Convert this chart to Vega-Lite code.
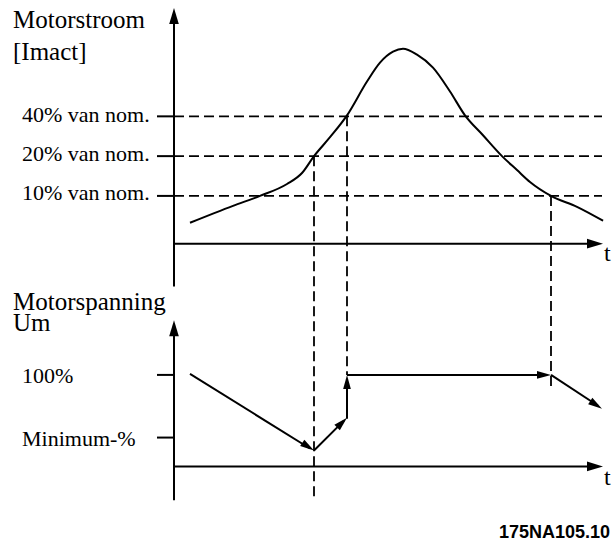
{
  "$schema": "https://vega.github.io/schema/vega-lite/v6.json",
  "width": 616,
  "height": 542,
  "padding": 0,
  "autosize": {"type": "fit", "contains": "padding"},
  "background": "white",
  "config": {"view": {"stroke": null}},
  "datasets": {
    "curve": [
      {"t": 190, "v": 224}, {"t": 233, "v": 207}, {"t": 260, "v": 197}, {"t": 287, "v": 185},
      {"t": 302, "v": 174}, {"t": 314, "v": 157}, {"t": 330, "v": 138}, {"t": 347, "v": 116},
      {"t": 367, "v": 82}, {"t": 380, "v": 63}, {"t": 393, "v": 52}, {"t": 403, "v": 49},
      {"t": 417, "v": 55}, {"t": 433, "v": 68}, {"t": 450, "v": 92}, {"t": 465, "v": 116},
      {"t": 483, "v": 136}, {"t": 502, "v": 157}, {"t": 517, "v": 171}, {"t": 530, "v": 183},
      {"t": 551, "v": 197}, {"t": 577, "v": 208}, {"t": 603, "v": 222}
    ],
    "solid": [
      {"seg": "yaxis1", "i": 0, "t": 174, "v": 20}, {"seg": "yaxis1", "i": 1, "t": 174, "v": 288},
      {"seg": "xaxis1", "i": 0, "t": 174, "v": 245}, {"seg": "xaxis1", "i": 1, "t": 592, "v": 245},
      {"seg": "yaxis2", "i": 0, "t": 174, "v": 334}, {"seg": "yaxis2", "i": 1, "t": 174, "v": 503},
      {"seg": "xaxis2", "i": 0, "t": 174, "v": 469}, {"seg": "xaxis2", "i": 1, "t": 592, "v": 469},
      {"seg": "tick40", "i": 0, "t": 157, "v": 117}, {"seg": "tick40", "i": 1, "t": 174, "v": 117},
      {"seg": "tick20", "i": 0, "t": 157, "v": 157}, {"seg": "tick20", "i": 1, "t": 174, "v": 157},
      {"seg": "tick10", "i": 0, "t": 157, "v": 197}, {"seg": "tick10", "i": 1, "t": 174, "v": 197},
      {"seg": "tick100", "i": 0, "t": 157, "v": 377}, {"seg": "tick100", "i": 1, "t": 174, "v": 377},
      {"seg": "tickmin", "i": 0, "t": 157, "v": 440}, {"seg": "tickmin", "i": 1, "t": 174, "v": 440},
      {"seg": "u1", "i": 0, "t": 190, "v": 376}, {"seg": "u1", "i": 1, "t": 310, "v": 451},
      {"seg": "u2", "i": 0, "t": 314, "v": 453}, {"seg": "u2", "i": 1, "t": 344, "v": 423},
      {"seg": "u3", "i": 0, "t": 347, "v": 421}, {"seg": "u3", "i": 1, "t": 347, "v": 381},
      {"seg": "u4", "i": 0, "t": 347, "v": 377}, {"seg": "u4", "i": 1, "t": 547, "v": 377},
      {"seg": "u5", "i": 0, "t": 551, "v": 377}, {"seg": "u5", "i": 1, "t": 598, "v": 408}
    ],
    "dashed": [
      {"seg": "h40", "i": 0, "t": 174, "v": 117}, {"seg": "h40", "i": 1, "t": 602, "v": 117},
      {"seg": "h20", "i": 0, "t": 174, "v": 157}, {"seg": "h20", "i": 1, "t": 602, "v": 157},
      {"seg": "h10", "i": 0, "t": 174, "v": 197}, {"seg": "h10", "i": 1, "t": 602, "v": 197},
      {"seg": "v1", "i": 0, "t": 314, "v": 157}, {"seg": "v1", "i": 1, "t": 314, "v": 503},
      {"seg": "v2", "i": 0, "t": 347, "v": 117}, {"seg": "v2", "i": 1, "t": 347, "v": 377},
      {"seg": "v3", "i": 0, "t": 551, "v": 197}, {"seg": "v3", "i": 1, "t": 551, "v": 390}
    ],
    "axisArrowUp": [{"t": 174, "v": 8}, {"t": 174, "v": 322}],
    "axisArrowRight": [{"t": 603, "v": 245}, {"t": 603, "v": 469}],
    "arrowUp": [{"t": 347, "v": 377}],
    "arrowUpRight": [{"t": 347, "v": 420}],
    "arrowRight": [{"t": 551, "v": 377}],
    "arrowDownRight": [{"t": 314, "v": 453}, {"t": 602, "v": 411}],
    "titles": [
      {"t": 13, "v": 28, "label": "Motorstroom"},
      {"t": 13, "v": 60, "label": "[Imact]"},
      {"t": 13, "v": 312, "label": "Motorspanning"},
      {"t": 13, "v": 333, "label": "Um"}
    ],
    "ticklabels": [
      {"t": 22, "v": 123, "label": "40% van nom."},
      {"t": 22, "v": 162, "label": "20% van nom."},
      {"t": 22, "v": 201, "label": "10% van nom."},
      {"t": 22, "v": 385, "label": "100%"},
      {"t": 22, "v": 448, "label": "Minimum-%"}
    ],
    "tlabels": [
      {"t": 604, "v": 262, "label": "t"},
      {"t": 604, "v": 488, "label": "t"}
    ],
    "footer": [{"t": 610, "v": 541, "label": "175NA105.10"}]
  },
  "encoding": {
    "x": {"field": "t", "type": "quantitative", "scale": {"domain": [0, 616], "nice": false, "zero": false}, "axis": null},
    "y": {"field": "v", "type": "quantitative", "scale": {"domain": [0, 542], "reverse": true, "nice": false, "zero": false}, "axis": null}
  },
  "layer": [
    {
      "data": {"name": "dashed"},
      "mark": {"type": "line", "color": "black", "strokeWidth": 1.8, "strokeDash": [10, 5]},
      "encoding": {"detail": {"field": "seg"}, "order": {"field": "i"}}
    },
    {
      "data": {"name": "solid"},
      "mark": {"type": "line", "color": "black", "strokeWidth": 2},
      "encoding": {"detail": {"field": "seg"}, "order": {"field": "i"}}
    },
    {
      "data": {"name": "curve"},
      "mark": {"type": "line", "color": "black", "strokeWidth": 2, "interpolate": "monotone"},
      "encoding": {}
    },
    {
      "data": {"name": "axisArrowUp"},
      "mark": {"type": "point", "shape": "M0,0L0.6,2L-0.6,2Z", "size": 256, "filled": true, "color": "black", "opacity": 1, "angle": 0}
    },
    {
      "data": {"name": "axisArrowRight"},
      "mark": {"type": "point", "shape": "M0,0L0.6,2L-0.6,2Z", "size": 256, "filled": true, "color": "black", "opacity": 1, "angle": 90}
    },
    {
      "data": {"name": "arrowUp"},
      "mark": {"type": "point", "shape": "M0,0L0.55,2L-0.55,2Z", "size": 196, "filled": true, "color": "black", "opacity": 1, "angle": 0}
    },
    {
      "data": {"name": "arrowUpRight"},
      "mark": {"type": "point", "shape": "M0,0L0.55,2L-0.55,2Z", "size": 196, "filled": true, "color": "black", "opacity": 1, "angle": 45}
    },
    {
      "data": {"name": "arrowRight"},
      "mark": {"type": "point", "shape": "M0,0L0.55,2L-0.55,2Z", "size": 196, "filled": true, "color": "black", "opacity": 1, "angle": 90}
    },
    {
      "data": {"name": "arrowDownRight"},
      "mark": {"type": "point", "shape": "M0,0L0.55,2L-0.55,2Z", "size": 196, "filled": true, "color": "black", "opacity": 1, "angle": 123}
    },
    {
      "data": {"name": "titles"},
      "mark": {"type": "text", "align": "left", "baseline": "alphabetic", "font": "Liberation Serif", "fontSize": 25, "color": "black"},
      "encoding": {"text": {"field": "label"}}
    },
    {
      "data": {"name": "ticklabels"},
      "mark": {"type": "text", "align": "left", "baseline": "alphabetic", "font": "Liberation Serif", "fontSize": 22, "color": "black"},
      "encoding": {"text": {"field": "label"}}
    },
    {
      "data": {"name": "tlabels"},
      "mark": {"type": "text", "align": "left", "baseline": "alphabetic", "font": "Liberation Serif", "fontSize": 24, "color": "black"},
      "encoding": {"text": {"field": "label"}}
    },
    {
      "data": {"name": "footer"},
      "mark": {"type": "text", "align": "right", "baseline": "alphabetic", "font": "Liberation Sans", "fontWeight": "bold", "fontSize": 18, "color": "black"},
      "encoding": {"text": {"field": "label"}}
    }
  ]
}
